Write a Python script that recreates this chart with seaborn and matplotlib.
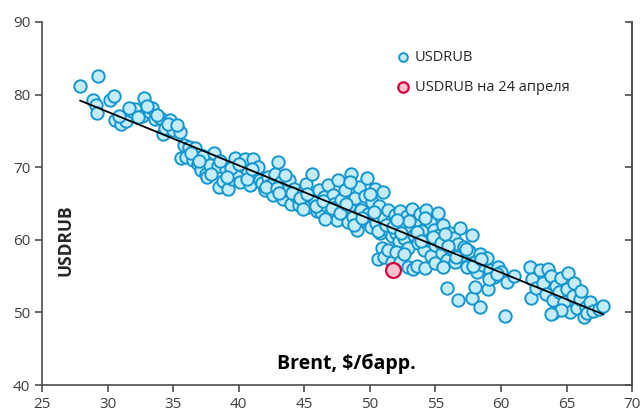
import matplotlib
matplotlib.use("Agg")
import matplotlib.pyplot as plt
import pandas as pd
import seaborn as sns

# Brent price ($/bbl) and USDRUB
brent = [
    27.9, 29.3, 28.9, 29.1, 29.2, 30.2, 30.5, 30.6, 31.0, 31.4, 31.9, 32.1, 32.6, 32.8, 33.2,
    33.4, 33.6, 34.0, 34.2, 34.4, 34.8, 35.0, 35.5, 35.8, 35.6, 36.0, 36.2, 36.5, 36.7, 36.9,
    37.1, 37.3, 37.5, 37.8, 37.6, 38.1, 38.4, 38.5, 38.8, 39.0, 39.2, 39.5, 39.7, 39.9, 40.1,
    40.3, 40.5, 40.7, 40.9, 41.1, 41.3, 41.6, 41.8, 42.0, 42.2, 42.4, 42.6, 42.8, 43.0, 43.2,
    43.4, 43.6, 43.8, 44.0, 44.2, 44.4, 44.6, 44.8, 45.0, 45.1, 45.3, 45.5, 45.6, 45.8, 46.0,
    46.1, 46.3, 46.5, 46.7, 46.8, 47.0, 47.2, 47.3, 47.5, 47.6, 47.8, 48.0, 48.1, 48.3, 48.4,
    48.6, 48.7, 48.9, 49.0, 49.2, 49.3, 49.5, 49.6, 49.8, 49.9, 50.1, 50.2, 50.4, 50.5, 50.7,
    50.8, 51.0, 51.1, 51.3, 51.4, 51.6, 51.7, 51.9, 52.0, 52.2, 52.3, 52.5, 52.6, 52.8, 52.9,
    53.1, 53.2, 53.4, 53.5, 53.7, 53.8, 54.0, 54.1, 54.3, 54.4, 54.6, 54.7, 54.9, 55.0, 55.2,
    55.3, 55.5, 55.6, 55.8, 55.9, 56.1, 56.2, 56.4, 56.5, 56.7, 56.9, 57.0, 57.2, 57.4, 57.6,
    57.8, 58.0, 58.2, 58.4, 58.6, 58.9, 59.2, 59.5, 59.8,
    50.6, 50.9, 51.1, 51.4, 51.7, 52.0, 52.3, 52.6, 52.9, 53.3, 53.6, 54.2, 55.0, 55.6,
    55.9, 56.7, 57.8, 58.4, 58.0, 60.3, 60.0, 60.5, 61.0, 59.0,
    62.2, 62.4, 62.3, 62.7, 63.0, 63.2, 63.4, 63.6, 63.8, 64.0, 64.2, 64.4, 64.6, 64.0, 64.8,
    65.0, 65.1, 65.3, 65.5, 65.6, 65.8, 66.0, 66.1, 66.3, 66.5, 66.6, 66.8, 67.0, 67.5, 67.8,
    64.6, 63.8,
    30.9, 31.6, 32.3, 33.0, 33.8, 34.6, 35.3, 36.4, 37.0, 37.9, 38.6, 39.4, 40.0, 40.6, 41.5,
    42.1, 42.9, 43.5, 44.1, 44.7, 45.2, 45.9, 46.4, 47.1, 47.7, 48.2, 48.8, 49.4, 50.0, 50.6,
    51.2, 51.8, 52.4, 53.0, 53.6, 54.2, 54.8, 55.4, 56.0, 56.6, 57.3, 57.9, 58.5, 59.1, 59.7,
    46.6, 48.5, 50.3, 52.1, 53.9, 55.7, 44.9, 43.1, 41.0, 39.1,
]
usdrub = [
    81.2, 82.6, 79.2, 78.6, 77.4, 79.3, 79.8, 76.5, 75.9, 76.3, 77.8, 78.0, 77.1, 79.6, 77.6,
    78.2, 76.6, 76.8, 74.6, 75.4, 76.5, 75.1, 74.9, 73.1, 71.3, 71.4, 72.8, 71.0, 72.6, 70.4,
    69.6, 71.6, 69.0, 70.3, 68.6, 71.9, 70.2, 67.3, 68.1, 69.7, 67.0, 68.4, 71.3, 69.2, 68.0,
    70.1, 71.2, 69.3, 67.6, 71.1, 69.4, 68.2, 67.8, 66.8, 68.6, 67.5, 66.2, 69.0, 70.7, 67.9,
    65.6, 66.9, 68.3, 65.0, 67.0, 66.1, 64.8, 66.4, 65.2, 67.7, 64.5, 66.0, 69.0, 65.4, 64.0,
    66.8, 63.8, 65.9, 64.6, 67.5, 63.5, 66.2, 64.9, 62.8, 68.2, 65.5, 63.9, 66.9, 62.4, 64.7,
    69.1, 63.2, 65.8, 61.3, 67.3, 64.1, 62.7, 66.0, 68.5, 63.6, 61.8, 65.2, 67.0, 62.3, 64.6,
    60.9, 66.6, 63.0, 61.5, 64.1, 62.4, 60.5, 63.4, 61.0, 59.8, 64.0, 62.1, 60.3, 63.3, 58.9,
    61.6, 64.2, 60.7, 62.8, 59.6, 63.6, 61.2, 58.6, 64.1, 60.0, 62.5, 57.8, 61.4, 59.3, 63.7,
    60.6, 58.2, 62.0, 59.9, 57.2, 61.0, 58.8, 60.3, 56.9, 59.4, 61.6, 57.9, 59.0, 56.3, 58.4,
    60.6, 57.0, 55.6, 58.1, 56.6, 57.5, 55.9, 54.9, 56.2,
    57.3, 58.9, 57.6, 58.6, 57.0, 58.3, 56.9, 58.0, 56.2, 56.0, 56.4, 56.1, 56.8, 56.3,
    53.4, 51.7, 52.0, 50.8, 53.5, 49.5, 55.6, 54.2, 55.0, 53.2,
    56.2, 54.6, 52.0, 53.3, 55.8, 54.0, 52.5, 56.0, 55.0, 51.7, 53.6, 52.8, 54.8, 49.9, 51.5,
    53.2, 55.5, 50.1, 52.2, 54.1, 50.6, 51.9, 53.0, 49.4, 50.8, 49.9, 51.4, 50.2, 50.5, 50.9,
    50.4, 49.8,
    77.0, 78.1, 76.9, 78.4, 77.2, 76.0, 75.8, 72.0, 70.9, 69.1, 70.8, 69.9, 70.5, 68.4, 70.0,
    67.3, 67.1, 68.9, 66.4, 65.7, 66.3, 64.7, 65.3, 64.4, 63.7, 65.0, 62.0, 63.0, 66.3, 61.2,
    62.1, 61.7, 60.9, 62.6, 61.1, 63.0, 60.4, 59.6, 59.2, 57.6, 58.8, 56.4, 57.3, 54.6, 55.3,
    62.9, 67.9, 63.9, 62.8, 59.9, 60.8, 64.3, 66.5, 69.8, 68.7,
]

# the 24 April observation
brent_apr24 = [51.8]
usdrub_apr24 = [55.8]

df = pd.DataFrame({"brent": brent, "usdrub": usdrub})
df_apr = pd.DataFrame({"brent": brent_apr24, "usdrub": usdrub_apr24})

sns.set_style("white")
plt.rcParams["font.family"] = ["Open Sans", "DejaVu Sans"]

fig = plt.figure(figsize=(6.43, 4.19), dpi=100)
ax = fig.add_axes([0.0653, 0.081, 0.9177, 0.8665])

sns.scatterplot(data=df, x="brent", y="usdrub", ax=ax, s=80, color="#c4ecfb",
                edgecolor="#1596cf", linewidth=1.4, label="USDRUB", zorder=2)
sns.regplot(data=df, x="brent", y="usdrub", ax=ax, scatter=False, ci=None,
            line_kws={"color": "black", "linewidth": 1.3, "zorder": 3})
sns.scatterplot(data=df_apr, x="brent", y="usdrub", ax=ax, s=115, color="#fbc3cf",
                edgecolor="#d8003c", linewidth=1.6, label="USDRUB на 24 апреля", zorder=4)

ax.set_xlim(25, 70)
ax.set_ylim(40, 90)
ax.set_xticks(range(25, 71, 5))
ax.set_yticks(range(40, 91, 10))
ax.set_xlabel("")
ax.set_ylabel("")

axis_col = "#4d4d4d"
ax.spines["top"].set_visible(False)
for side in ["left", "bottom", "right"]:
    ax.spines[side].set_color(axis_col)
    ax.spines[side].set_linewidth(1.2)
ax.tick_params(axis="both", direction="out", length=5, width=1.2, color=axis_col,
               labelsize=11, labelcolor="#404040", left=True, bottom=True)

# right axis with inward ticks, no labels
ax2 = ax.twinx()
ax2.set_ylim(40, 90)
ax2.set_yticks(range(40, 91, 10))
ax2.tick_params(axis="y", direction="in", length=5, width=1.2, color=axis_col,
                labelright=False)
for side in ["top", "left", "bottom"]:
    ax2.spines[side].set_visible(False)
ax2.spines["right"].set_color(axis_col)
ax2.spines["right"].set_linewidth(1.2)

ax.text(0.516, 0.06, "Brent, $/барр.", transform=ax.transAxes, ha="center", va="center",
        fontsize=14, fontweight="bold", color="black")
ax.text(0.04, 0.4, "USDRUB", transform=ax.transAxes, ha="center", va="center",
        rotation=90, fontsize=12.5, fontweight="bold", color="#262626")

ax.legend(loc="upper left", bbox_to_anchor=(0.59, 0.94), frameon=False, fontsize=10.5,
          handlelength=1.0, handletextpad=0.3, labelspacing=1.05, markerscale=0.7,
          borderaxespad=0)

fig.savefig("out.png", dpi=100)
